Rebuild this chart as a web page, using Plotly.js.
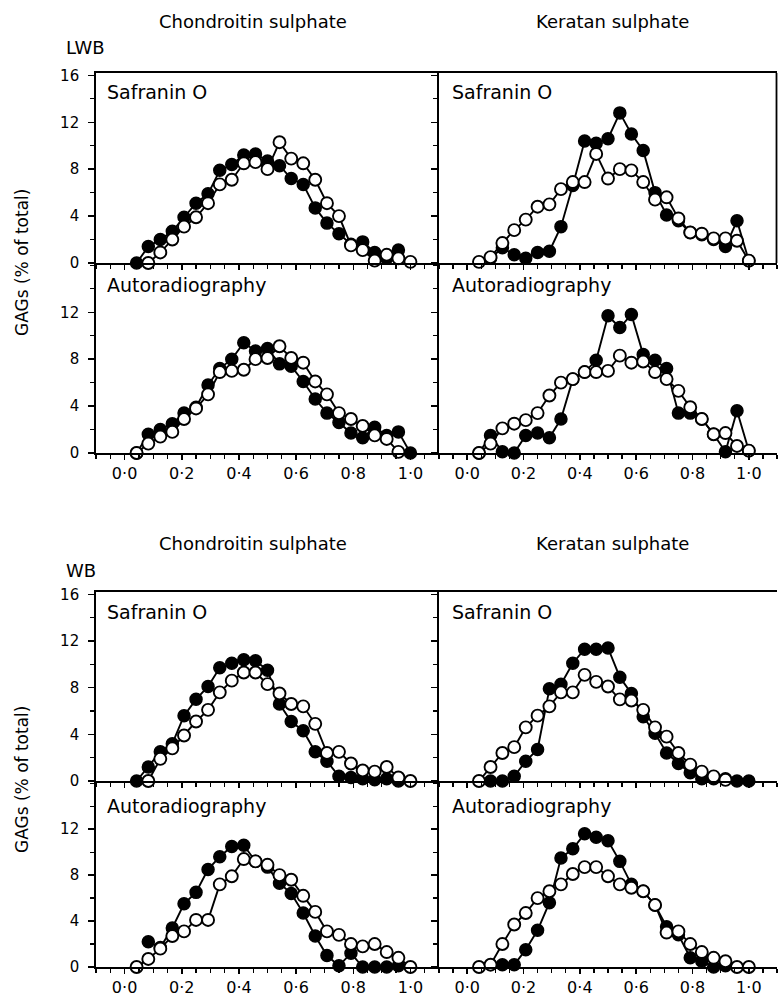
<!DOCTYPE html>
<html><head><meta charset="utf-8">
<script src="https://cdn.plot.ly/plotly-3.0.1.min.js"></script>
<style>body{margin:0;background:#fff}</style>
</head><body><div id="chart" style="width:778px;height:999px"></div>
<script>
// Relative position along the section (24 slices)
const fraction = [0.042,0.083,0.125,0.167,0.208,0.25,0.292,0.333,0.375,0.417,0.458,0.5,0.542,0.583,0.625,0.667,0.708,0.75,0.792,0.833,0.875,0.917,0.958,1.0];
const xTickVals = [0,0.2,0.4,0.6,0.8,1.0];
const xTickLabels = ['0·0','0·2','0·4','0·6','0·8','1·0'];
const yTickVals16 = [0,4,8,12,16];
const yTickVals12 = [0,4,8,12];

// LWB
const lwbCsSafFilled = [0,1.4,2.0,2.7,3.9,5.1,5.9,7.9,8.4,9.2,9.3,8.7,8.3,7.2,6.7,4.7,3.4,2.5,1.6,1.8,0.9,0.4,1.1,null];
const lwbCsSafOpen   = [null,0,0.9,2.0,3.1,3.9,5.1,6.7,7.1,8.5,8.6,8.0,10.3,8.9,8.5,7.1,5.1,4.0,1.5,1.1,0.2,0.7,0.4,0.1];
const lwbKsSafFilled = [null,0.4,1.3,0.7,0.4,0.9,1.0,3.1,6.6,10.4,10.2,10.6,12.8,11.0,9.6,6.0,4.1,3.6,2.6,2.4,2.0,1.4,3.6,0.2];
const lwbKsSafOpen   = [0.1,0.5,1.7,2.8,3.7,4.8,5.0,6.3,6.9,6.9,9.3,7.2,8.0,7.9,6.9,5.4,5.6,3.8,2.6,2.5,2.1,2.1,1.9,0.2];
const lwbCsAutFilled = [0,1.6,2.0,2.5,3.4,3.9,5.8,7.2,8.0,9.4,8.7,8.9,7.6,7.4,6.1,4.6,3.4,2.6,1.7,1.3,2.2,1.5,1.8,0];
const lwbCsAutOpen   = [0,0.8,1.4,1.8,2.9,3.8,5.0,6.9,7.0,7.1,8.0,8.1,9.1,8.1,7.7,6.1,5.0,3.4,2.9,2.3,1.5,1.2,0.1,null];
const lwbKsAutFilled = [0,1.5,0.1,0,1.5,1.7,1.3,2.9,6.3,6.9,7.9,11.7,10.7,11.8,8.4,7.9,7.2,3.4,3.4,2.9,1.6,0.1,3.6,0.2];
const lwbKsAutOpen   = [0,0.8,2.1,2.5,2.8,3.4,4.9,6.0,6.3,6.9,6.9,7.0,8.3,7.7,7.8,6.9,6.3,5.3,3.9,2.9,1.6,1.7,0.6,0.2];
// WB
const wbCsSafFilled = [0,1.2,2.5,3.2,5.6,7.0,8.1,9.7,10.1,10.4,10.3,9.5,6.6,5.1,4.3,2.5,1.7,0.4,0.3,0.2,0.1,0.2,0,null];
const wbCsSafOpen   = [null,0,1.9,2.8,3.9,5.1,6.1,7.6,8.6,9.3,9.3,8.3,7.5,6.6,6.4,4.9,2.4,2.5,1.5,0.9,0.8,1.2,0.3,0];
const wbKsSafFilled = [null,0,0,0.4,1.7,2.7,7.9,8.3,10.1,11.3,11.3,11.4,8.9,7.5,5.5,4.1,2.4,1.5,0.7,0.2,0.2,0.2,0,0];
const wbKsSafOpen   = [0,1.2,2.4,2.9,4.6,5.6,6.4,7.6,7.6,9.1,8.5,8.1,7.0,6.9,6.1,4.6,3.8,2.4,1.4,0.8,0.4,0.1,null,null];
const wbCsAutFilled = [null,2.2,1.7,3.4,5.5,6.5,8.5,9.6,10.5,10.6,9.2,8.7,7.3,6.4,4.7,2.7,1.0,0.1,1.2,0,0,0,0.1,null];
const wbCsAutOpen   = [0,0.7,1.6,2.7,3.1,4.1,4.1,7.2,7.9,9.4,9.2,8.9,8.0,7.6,6.2,4.8,3.1,2.8,2.0,1.8,2.0,1.3,0.8,0];
const wbKsAutFilled = [null,null,0.2,0.2,1.5,3.2,5.6,9.5,10.3,11.6,11.3,11.0,9.2,7.2,6.6,5.4,3.5,2.8,0.8,0.5,0,0.1,null,null];
const wbKsAutOpen   = [0,0.2,2.0,3.7,4.7,6.0,6.6,7.2,8.1,8.7,8.7,7.9,7.2,6.9,6.6,5.4,3.0,3.1,2.0,1.3,0.8,0.5,0,0];

const W = 778, H = 999;
const px = v => v / W;
const py = v => 1 - v / H;
const colDom = [[px(96), px(439)], [px(439), px(777)]];
// rows: [bottomPx, topPx]
const rowDom = [[py(263), py(73)], [py(453), py(263)], [py(781), py(592)], [py(967), py(781)]];

const panels = [
  {col:0,row:0,f:lwbCsSafFilled,o:lwbCsSafOpen,saf:true},
  {col:1,row:0,f:lwbKsSafFilled,o:lwbKsSafOpen,saf:true},
  {col:0,row:1,f:lwbCsAutFilled,o:lwbCsAutOpen,saf:false},
  {col:1,row:1,f:lwbKsAutFilled,o:lwbKsAutOpen,saf:false},
  {col:0,row:2,f:wbCsSafFilled,o:wbCsSafOpen,saf:true},
  {col:1,row:2,f:wbKsSafFilled,o:wbKsSafOpen,saf:true},
  {col:0,row:3,f:wbCsAutFilled,o:wbCsAutOpen,saf:false},
  {col:1,row:3,f:wbKsAutFilled,o:wbKsAutOpen,saf:false}
];

const FONT = 'DejaVu Sans, Liberation Sans, sans-serif';
const traces = [];
const layout = {
  width: W, height: H, margin:{l:0,r:0,t:0,b:0},
  paper_bgcolor:'#fff', plot_bgcolor:'rgba(0,0,0,0)', showlegend:false,
  font:{family:FONT, color:'#000', size:15},
  annotations:[], shapes:[]
};

panels.forEach((p, i) => {
  const n = i + 1;
  const xa = 'x' + n, ya = 'y' + n;
  const base = {x: fraction, xaxis: xa, yaxis: ya, mode:'lines+markers', cliponaxis:false,
    connectgaps:false, line:{color:'#000', width:1.9}, hoverinfo:'skip'};
  traces.push(Object.assign({}, base, {y: p.f, marker:{size:12, color:'#000', line:{color:'#000', width:1.5}}}));
  traces.push(Object.assign({}, base, {y: p.o, marker:{size:12, color:'#fff', line:{color:'#000', width:1.9}}}));
  const xk = 'xaxis' + (n === 1 ? '' : n), yk = 'yaxis' + (n === 1 ? '' : n);
  layout[xk] = {
    domain: colDom[p.col], anchor: ya, range:[-0.1, 1.1], fixedrange:true,
    showline:true, linecolor:'#000', linewidth:1.8, mirror: p.saf ? true : false,
    showgrid:false, zeroline:false,
    tickmode:'array', tickvals: xTickVals, ticktext: xTickLabels,
    ticks:'outside', ticklen:5, tickwidth:1.5, tickcolor:'#000',
    minor:{tickmode:'linear', tick0:0, dtick:0.05, ticks:'outside', ticklen:4, tickwidth:1.3, tickcolor:'#000', showgrid:false},
    showticklabels: !p.saf, tickfont:{family:FONT, size:16, color:'#000'}
  };
  layout[yk] = {
    domain: rowDom[p.row], anchor: xa, range:[0, 16.2], fixedrange:true,
    showline:true, linecolor:'#000', linewidth:1.8,
    showgrid:false, zeroline:false,
    tickmode:'array', tickvals: p.saf ? yTickVals16 : yTickVals12,
    ticks:'outside', ticklen:6, tickwidth:1.5, tickcolor:'#000',
    minor:{tickmode:'linear', tick0:0, dtick:2, ticks:'outside', ticklen:4, tickwidth:1.3, tickcolor:'#000', showgrid:false},
    showticklabels: p.col === 0, ticklabelstandoff: 6,
    tickfont:{family:FONT, size:15, color:'#000'}
  };
  layout.annotations.push({
    text: p.saf ? 'Safranin O' : 'Autoradiography',
    xref:'paper', yref:'paper', x: p.col === 0 ? px(105) : px(450),
    y: p.row === 0 ? py(92) : p.row === 1 ? py(285) : p.row === 2 ? py(612) : py(806),
    xanchor:'left', yanchor:'middle', showarrow:false, font:{family:FONT, size:19, color:'#000'}
  });
});

// right border of LWB Safranin box
layout.shapes.push({type:'line', xref:'paper', yref:'paper', x0:px(776.5), x1:px(776.5), y0:py(263), y1:py(73), line:{color:'#000', width:1.8}});

const colTitles = ['Chondroitin sulphate','Keratan sulphate'];
const groups = ['LWB','WB'];
[[22, 47, 263], [543, 570, 780]].forEach((g, gi) => {
  colTitles.forEach((t, ci) => layout.annotations.push({
    text:t, xref:'paper', yref:'paper', x: ci === 0 ? px(253) : px(612), y: py(g[0]),
    xanchor:'center', yanchor:'middle', showarrow:false, font:{family:FONT, size:18, color:'#000'}
  }));
  layout.annotations.push({text: groups[gi], xref:'paper', yref:'paper', x: px(64), y: py(g[1]),
    xanchor:'left', yanchor:'middle', showarrow:false, font:{family:FONT, size:18, color:'#000'}});
  layout.annotations.push({text:'GAGs (% of total)', xref:'paper', yref:'paper', x: px(22), y: py(g[2]),
    xanchor:'center', yanchor:'middle', textangle:-90, showarrow:false, font:{family:FONT, size:17, color:'#000'}});
});

Plotly.newPlot('chart', traces, layout, {staticPlot:true, displayModeBar:false});
</script></body></html>
